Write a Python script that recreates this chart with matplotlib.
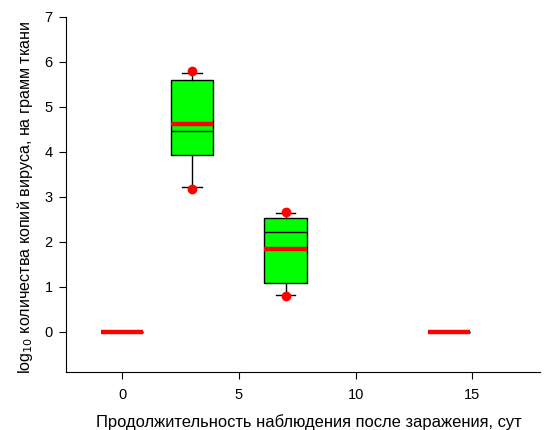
import matplotlib
matplotlib.use('Agg')
import matplotlib.pyplot as plt

plt.rcParams['font.family'] = ['Liberation Sans', 'DejaVu Sans']

days = [0, 3, 7, 14]
q1 = [0.0, 3.94, 1.09, 0.0]
q3 = [0.0, 5.60, 2.52, 0.0]
medians = [0.0, 4.47, 2.21, 0.0]
means = [0.0, 4.62, 1.85, 0.0]
whisk_lo = [0.0, 3.22, 0.82, 0.0]
whisk_hi = [0.0, 5.76, 2.63, 0.0]
outliers = [[], [3.17, 5.80], [0.79, 2.67], []]

stats = []
for i in range(len(days)):
    stats.append(dict(q1=q1[i], q3=q3[i], med=medians[i], mean=means[i],
                      whislo=whisk_lo[i], whishi=whisk_hi[i], fliers=outliers[i]))

fig = plt.figure(figsize=(5.45, 4.3), dpi=100)
ax = fig.add_axes([0.121, 0.135, 0.87, 0.826])

ax.bxp(stats, positions=days, widths=1.8, capwidths=0.85, patch_artist=True,
       showmeans=True, meanline=True, manage_ticks=False,
       boxprops=dict(facecolor='#00ff00', edgecolor='black', linewidth=1.0),
       medianprops=dict(color='black', linewidth=1.0),
       meanprops=dict(color='#ff0000', linestyle='-', linewidth=3.2),
       whiskerprops=dict(color='black', linewidth=1.0),
       capprops=dict(color='black', linewidth=1.0),
       flierprops=dict(marker='o', markerfacecolor='#ff0000', markeredgecolor='#ff0000',
                       markersize=6, linestyle='none'))

ax.set_xlim(-2.4, 17.9)
ax.set_ylim(-0.89, 7)
ax.set_xticks([0, 5, 10, 15])
ax.set_yticks(range(0, 8))
ax.spines['top'].set_visible(False)
ax.spines['right'].set_visible(False)
ax.tick_params(direction='out', length=5, width=0.8, labelsize=10.5)
ax.tick_params(axis='x', pad=6.5)
ax.tick_params(axis='y', pad=4.5)

ax.set_xlabel('Продолжительность наблюдения после заражения, сут', fontsize=11.9, labelpad=9)
ax.set_ylabel('log$_{10}$ количества копий вируса, на грамм ткани', fontsize=11.6, labelpad=7)
ax.xaxis.label.set_x(0.513)
ax.yaxis.label.set_y(0.49)

fig.savefig('out.png', dpi=100)
